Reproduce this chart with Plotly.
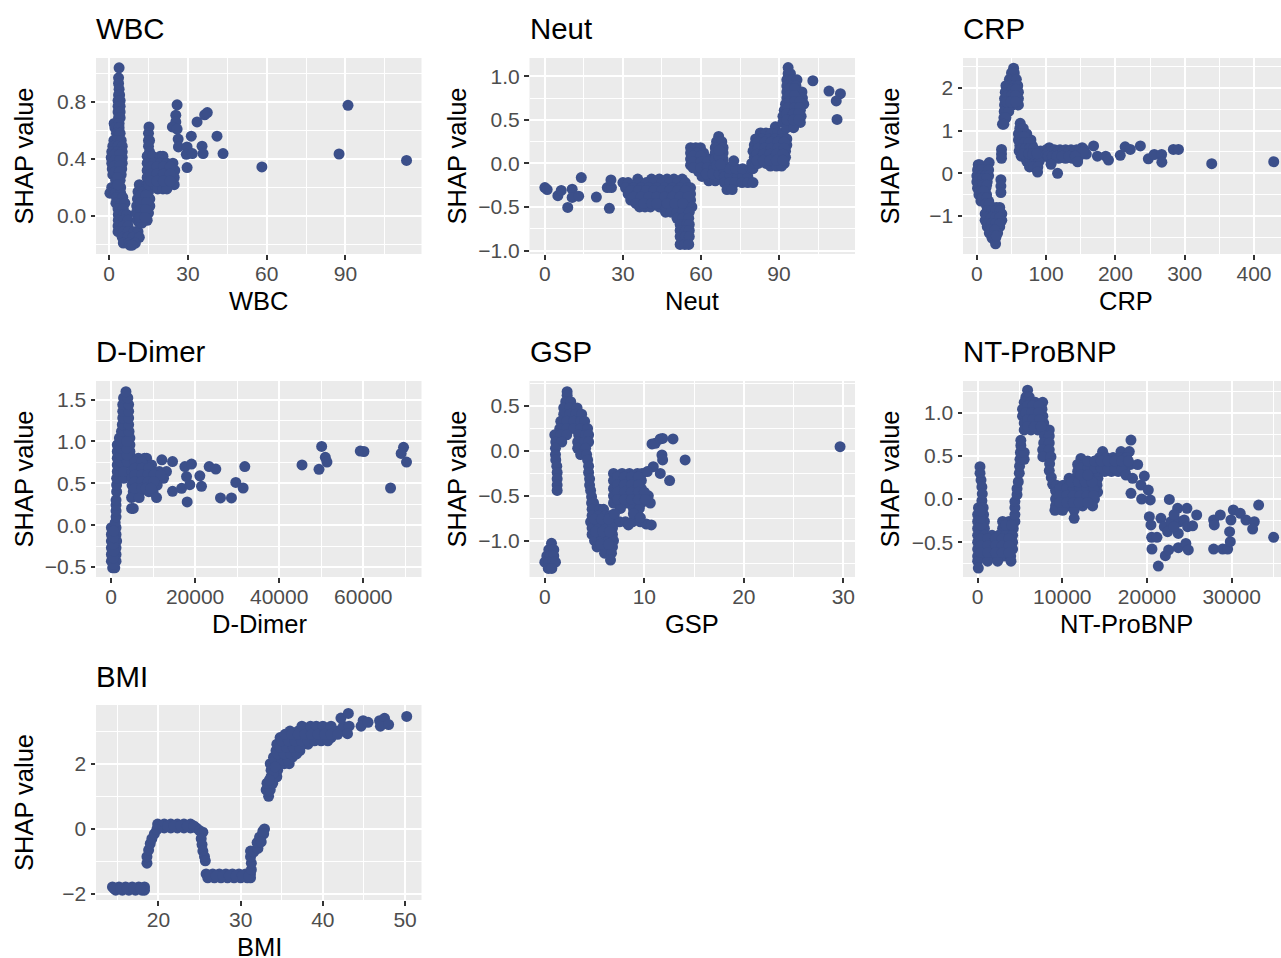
import plotly.graph_objects as go

# Each rows list holds (shap value, [feature values]); points are the sparse marks.
wbc_rows = [
(1.04,[3.8]),(.97,[3.6]),(.93,[3.6]),(.89,[3.8]),(.85,[3.6,4]),(.81,[3.4,4.2]),(.77,[3.4,4.2]),(.73,[3.4,4.2]),(.69,[3.6,4.2]),(.65,[1.9,3.8]),(.62,[2.2,3.8]),
(.58,[2.8,3.8,4.2]),(.53,[1.8,3.4,4.6]),(.49,[1.4,3.2,5]),(.45,[1,3,5]),(.41,[.8,3,5]),(.37,[1,3,5]),(.33,[1.2,3,4.8]),(.29,[1.4,3.2,4.6]),(.25,[2.5,4.2]),(.2,[1,2.8,4.4]),(.16,[.3,2.4,4.4]),(.13,[2.8,5.2]),(.09,[2.6,4.6,6]),(.05,[3.4,5.4]),(.01,[3.5,5.5,6.8]),(-.03,[3.5,5.5,7.2]),(-.07,[3.4,5.4,7.2]),(-.11,[3.4,5.4,7.2,9.5,11]),(-.15,[5,7,9,11.5]),(-.19,[5.4,7.5,10]),(-.205,[7.9,8.8]),
(.22,[11.5,14.5]),(.17,[11,13,15]),(.12,[10.8,13,15.5]),(.07,[10.5,13,15.5]),(.02,[10.3,12.5,15]),(-.03,[10.8,13,14.5]),(-.05,[11.5,12.5]),
(.625,[15.2]),(.58,[15]),(.53,[15,15.4]),(.49,[15]),(.45,[15.4]),(.42,[14.5,16.5,19.5,20.5]),(.37,[14.5,17,19.5,22,24.3]),(.32,[14.5,17,19.5,22,25]),(.27,[14.5,17,19.5,22,24.8]),(.22,[15,17.5,20,22.5,24.8]),(.19,[18.5,20.5,22]),
(.345,[15.8,18.2,20.7,23.2]),(.295,[15.8,18.2,20.7,23.2]),(.245,[15.8,18.2,20.7,23.2]),(.145,[12,14]),(.095,[12,14.3]),(.045,[12,14]),(-.01,[11.5,13.7]),
(.43,[2,4]),(.39,[2,4]),(.35,[2,4]),(.31,[2.2,3.9]),(.27,[3.2]),(.22,[3.4])]
wbc_points = [(25.9,.78),(25.4,.707),(25.4,.66),(24.1,.625),(25.9,.61),(26.3,.54),(26.4,.485),(29.7,.485),(31.3,.56),(29.4,.433),(31.7,.438),(29.7,.34),(33.5,.66),(36.4,.71),(37.4,.726),(35.4,.49),(35.8,.438),(41.1,.56),(43.4,.438),(58.2,.344),(87.6,.435),(91,.777),(113.3,.39)]

neut_rows = [
(-.18,[35.7,41,44,47,49.6,52.8]),(-.22,[30,32,36,39,42,45,48,51,54]),(-.28,[31,34,37,40,43,46,49,52,55,56]),(-.35,[32,35,38,41,44,47,50,53,56]),(-.42,[33,36,39,42,45,48,51,54,56]),(-.5,[36.4,38.5,40.6,44,46.5,49,52,55,56.5]),(-.56,[46.4,48.5,50.8,53,55.5]),(-.63,[50.8,53,55.3]),(-.7,[52,54.5,55.5]),(-.77,[52,54,55.5]),(-.84,[52,54,55.5]),(-.93,[52,53.8,55.3]),
(-.31,[33,36,39,42,45,48,51,54]),(-.385,[34,37,40,43,46,49,52,55]),(-.46,[35,38,41,43,47,50,53]),
(.18,[56,58,59.8]),(.12,[56,58.5,61]),(.05,[56,58.5,61,63.5]),(-.02,[56,58.5,61,63.5]),(-.09,[59,61.5,64,66.5]),(-.15,[60.4,63,65.5,68]),(-.2,[63,65.5]),
(.085,[57,60]),(.015,[57,60,62.5]),(-.05,[57,60,62.5,65]),(-.12,[62,64.5,67]),
(.31,[66.8]),(.25,[66,68]),(.18,[65.5,68.5]),(.12,[65.5,68.5]),(.05,[65.5,68.5]),(-.02,[66,69]),(-.09,[69,71]),(-.15,[69,71,74,76,78]),(-.22,[69,71,73,75.8,78,80]),(-.3,[70,72]),(-.06,[71,73.5,76,79,80]),(.03,[72.6]),(.0,[79.5,81]),(.08,[67]),(.15,[67]),(-.01,[67.5]),
(.42,[88.6]),(.35,[82.8,85,87,89.5,91.5]),(.28,[81,83.5,86,88.5,91,93]),(.21,[80.5,83,85.5,88,90.5,93]),(.14,[80,82.5,85,87.5,90,92.5]),(.07,[80.5,83,85.5,88,90.5,92.5]),(.0,[82,85,87.5,90,92]),(-.03,[86.7,89,91]),
(.245,[82,84.5,87,89.5,92]),(.175,[82,84.5,87,89.5,92]),(.105,[81.5,84,86.5,89,91.5]),(.035,[81.5,84,86.5,89,91.5]),
(1.1,[93.5]),(1.03,[93.5,94.4]),(.96,[93,95,96.9]),(.89,[93,95,96.5]),(.82,[93,95,97,98.8]),(.75,[93,95,97,99]),(.68,[92.5,95,97,99.5]),(.61,[92,94.5,97,98.2]),(.54,[91.5,94,96.5,98.5]),(.47,[91.5,94,96.5,98.2]),(.41,[93,95.6]),
(.86,[94,96]),(.78,[94,96]),(.71,[94,96,98]),(.64,[93.5,96,98]),(.57,[93,95.5,97.5]),(.5,[93,95.5,97.5])]
neut_points = [(0,-.277),(.9,-.30),(5,-.37),(6.3,-.31),(8.8,-.505),(10.5,-.296),(10.5,-.39),(13,-.376),(14,-.163),(19.8,-.387),(24,-.277),(25.6,-.277),(25.4,-.19),(24.8,-.516),(103,.949),(109.2,.831),(113.6,.80),(112,.717),(112.3,.505)]

crp_rows = [
(2.46,[53]),(2.35,[50,54]),(2.2,[47,52,57]),(2.05,[42,48,54,59]),(1.9,[41,47,53,60]),(1.75,[40,46,52,60]),(1.6,[40,46,52,60]),(1.45,[39.5,46]),(1.3,[39,42]),(1.15,[37,39]),
(1.97,[45,51,56]),(1.82,[44,50,56]),(1.67,[43,49,56]),
(.56,[35.6]),(.45,[35.6]),(.35,[35.6]),(-.15,[34.7]),(-.3,[34.7]),(-.45,[34.7]),
(.2,[2,4]),(.25,[17.8]),(.08,[1,6,17]),(-.06,[0,6,12,17]),(-.2,[0,6,12,15]),(-.35,[1,7,13]),(-.5,[3,9,14]),(-.65,[5.8,11,17]),(-.8,[15,20,28,33]),(-.95,[12,18,24,30,36]),(-1.1,[12,18,24,30,36]),(-1.25,[15,21,27,33]),(-1.4,[18,24,30]),(-1.52,[22,27]),(-1.65,[27]),
(-.13,[3,9,14]),(-.28,[3,9,14]),(-.42,[4,10]),(-.58,[8,14]),(-.72,[13,18]),(-.88,[15,21,27,33]),(-1.03,[15,21,27,33]),(-1.18,[15,21,27,33]),(-1.33,[20,26]),(-1.46,[24,28]),
(1.17,[62.6]),(1.05,[62,67]),(.92,[60,66,72]),(.78,[60,66,72,78]),(.65,[62,68,74,80]),(.52,[61,67,73,79,85,92]),(.4,[64,72,78,84,90,97]),(.28,[72,78,84,90]),(.15,[76,82,88]),(.03,[87.6]),
(.85,[63,69]),(.72,[63,69,75]),(.58,[64,70,76,82]),(.46,[67,75,81,87]),
(.6,[104.5,152]),(.55,[100,106,112,120,128,136,144,150,155]),(.45,[100,106,112,120,128,136,144,150,158]),(.35,[105,112,118,128,138,146]),(.5,[103,109,116,124,132,140,147,153]),(.4,[103,109,115,123,133,142])]
crp_points = [(107,.21),(116.5,0),(145.4,.27),(168.5,.64),(174,.4),(186,.4),(190,.31),(207,.42),(214,.62),(221.5,.56),(236,.64),(247.5,.34),(256,.44),(266.7,.44),(267,.26),(283.6,.56),(291,.56),(339,.225),(428.5,.27)]

ddimer_rows = [
(-.51,[400,900]),(-.43,[100,1200]),(-.35,[100,1200]),(-.27,[100,1200]),(-.19,[100,1350]),(-.11,[100,1200]),(-.03,[100,1200]),(.03,[1000]),(.1,[1200]),(.17,[1200]),(.24,[1200]),(.3,[1200]),(.4,[1350]),(.48,[1350]),(.56,[1350,3000]),(.64,[1500]),(.72,[1500,3000]),(.8,[1500,3300,5000,6500,8000,8470]),(.88,[1500,3000,4500]),(.96,[1500,3000,4500]),(1.04,[2000,3500,4500]),(1.12,[2500,4300]),(1.2,[3300,2700,4200]),(1.28,[2800,4200]),(1.36,[2800,4200]),(1.44,[2800,4200]),(1.52,[3000,4000]),(1.595,[3560]),
(-.47,[650]),(-.39,[650]),(-.31,[650]),(-.23,[650]),(-.15,[650]),(-.07,[650]),
(.72,[5000,6500,8000,9650]),(.64,[3000,5000,6500,8000,10000,11500,13200]),(.56,[5000,6500,8000,9500,11000,12500]),(.48,[5000,6500,8000,9500,11000]),(.4,[5300,6900,9000,10000]),(.33,[4900,6700,10840]),(.2,[4900,5300]),
(.76,[2300,3900,5700,7300]),(.68,[5700,7300,9000]),(.6,[5700,7300,8800,10200,11800]),(.52,[5700,7300,8800,10200]),(.44,[5700,7300,8300,9500]),(.84,[2300,3800]),(.92,[2300,3700]),(1.0,[2400,3800])]
ddimer_points = [(12100,.78),(14640,.76),(14640,.405),(16800,.44),(18750,.484),(17970,.58),(17570,.70),(19150,.73),(18120,.278),(21130,.59),(21530,.464),(23350,.70),(24930,.67),(26040,.325),(28650,.325),(29680,.51),(31420,.444),(31820,.70),(45430,.72),(49470,.667),(50100,.94),(50970,.81),(51360,.754),(59280,.885),(60150,.88),(69570,.93),(69000,.857),(70280,.754),(66480,.444)]

gsp_rows = [
(-1.03,[.67]),(-1.1,[.4,.9]),(-1.17,[.2,.55,.9]),(-1.24,[0,.4,.8,1.07]),(-1.31,[.35,.7]),
(.66,[2.24]),(.62,[2.24]),(.55,[2.1,2.6]),(.48,[1.9,2.5,3.24]),(.41,[1.9,2.5,3.1,3.7]),(.33,[1.6,2.2,2.9,3.6,4]),(.25,[1.5,2.2,2.9,3.6,4.3]),(.18,[1,1.6,2.2,3.4,4.1,4.4]),(.1,[1.1,1.7,3.3,4,4.4]),(.03,[1.07,3.3,4.1]),(-.04,[1.07,3.6,4.2]),(-.1,[1.1,4.3]),(-.17,[1.2,4.4]),(-.24,[1.24,4.4]),(-.31,[1.24,4.5]),(-.38,[1.24,4.5]),(-.44,[1.24,4.6]),(-.51,[4.7]),(-.58,[4.7,4.9]),
(-.65,[4.75,5.5,5.9]),(-.72,[4.75,5.4,6.1,6.6]),(-.79,[4.6,5.3,6,6.8,7.5,8.1,8.8,9.6]),(-.86,[4.75,5.4,6.1,6.8]),(-.93,[4.75,5.4,6.1,6.8]),(-1,[5,5.7,6.4,6.9]),(-1.07,[5.25,6,6.8]),(-1.14,[6,6.7]),(-1.216,[6.6]),
(-.76,[5,5.7,6.4]),(-.9,[5.1,5.8,6.5]),(-1.04,[5.6,6.4]),
(-.25,[6.9,7.76,8.5,9.3,9.77]),(-.33,[6.9,7.6,8.3,9,9.7]),(-.42,[6.9,7.6,8.3,9,9.7]),(-.5,[6.9,7.6,8.3,9,9.7,10.4]),(-.58,[6.9,7.6,8.3,9,9.7,10.6]),(-.64,[7.6,8.9,9.5]),(-.7,[7,8.9]),
(-.29,[7.3,8,8.7,9.4]),(-.38,[7.3,8,8.7,9.4]),(-.46,[7.3,8,8.7,9.4,10]),(-.54,[7.3,8,8.7,9.4,10.1])]
gsp_points = [(8.4,-.825),(10.2,-.814),(10.7,-.825),(9.6,-.743),(10.9,-.175),(10.3,-.23),(11.6,-.25),(12.54,-.33),(11.77,-.045),(11.84,-.1),(10.77,.078),(11.1,.085),(11.6,.134),(11.84,.14),(12.88,.134),(14.1,-.1),(29.67,.048)]

bnp_rows = [
(.375,[275]),(.3,[280]),(.22,[400]),(.14,[500]),(.06,[550]),(-.02,[500]),(-.1,[100,650]),(-.18,[0,700]),(-.26,[0,800,2950,3700,4400]),(-.34,[0,800,2950,3700,4200]),(-.42,[0,800,1700,2500,3300,4130]),(-.5,[0,800,1700,2500,3300,4130]),(-.58,[0,800,1700,2500,3300,4130]),(-.66,[0,800,1500,2300,3100,3900]),(-.72,[0,1180,2360,3940]),(-.8,[80]),
(-.46,[400,1200,2100,2900,3700]),(-.54,[400,1200,2100,2900,3700]),(-.62,[400,1200,2100,2900,3700]),(-.3,[400,3300,4000]),(-.22,[350]),(-.14,[350]),
(-.18,[4400]),(-.1,[4400]),(-.03,[4400]),(.05,[4650]),(.12,[4650]),(.2,[4800]),(.3,[4920]),(.38,[4950]),(.46,[5000,5500]),(.54,[5050,5500]),(.62,[5100]),(.68,[5100]),
(1.26,[5900]),(1.18,[5700,6100]),(1.12,[5500,6200,6800,7680]),(1.04,[5300,6000,6800,7600]),(.96,[5300,6000,6800,7700]),(.88,[5500,6200,7000,7800]),(.8,[5500,6300,7100,7900,8460]),(.73,[7900,8460]),(.65,[7800,8460]),(.57,[7680,8460]),(.49,[7700,8660]),(.41,[8500]),(.33,[8460]),(.25,[8700]),(.17,[8860]),(.1,[9200]),
(1.08,[5900,6500,7200]),(1.0,[5700,6400,7200]),(.92,[5900,6500,7300]),(.84,[5900,6700,7500]),
(.24,[10800,11500,12300,13000,13800,14200]),(.16,[9300,10100,10900,11700,12500,13300,14100]),(.08,[9300,10100,10900,11700,12500,13300,14170]),(0,[9200,10000,10800,11600,12400,13200,13800]),(-.08,[9200,10000,10800,11400,12400,13580]),(-.13,[9130,10040,11400]),
(.12,[9700,10500,11300,12100,12900,13700]),(.04,[9700,10500,11300,12100,12900,13700]),(-.04,[9700,10500,11300,12000,13000]),(.2,[11100,11900,12700,13500]),
(.47,[12200]),(.4,[11810,12600,13400,14000,14800,15600,16400,17200,18000,18900]),(.32,[11810,12600,13400,14200,15000,15800,16600,17400]),(.55,[14760,16930,17910]),(.48,[14400,15200,16000,16800,17600]),
(.36,[12200,13000,13800,14600,15400,16200,17000]),(.44,[13000,13800,14600,15400,16200,17000,17800]),(.28,[12200,13000])]
bnp_points = [(11400,-.224),(18110,.683),(17520,.278),(18300,.24),(19690,.266),(19290,.162),(20160,.104),(18110,.066),(19370,0),(20390,-.01),(20280,-.205),(20470,-.3),(20550,-.444),(21180,-.444),(20590,-.58),(21340,-.776),(22170,-.656),(22560,-.59),(22640,-.004),(21650,-.224),(22050,-.32),(22830,-.263),(22440,-.378),(23620,-.108),(23820,-.263),(23700,-.398),(23700,-.564),(24720,-.108),(24400,-.243),(24800,-.32),(25390,-.31),(25870,-.185),(24590,-.514),(24880,-.59),(23200,-.18),(23200,-.32),(27870,-.243),(28660,-.185),(27950,-.3),(27870,-.58),(28940,-.58),(29530,-.58),(29840,-.494),(29760,-.378),(29920,-.243),(30200,-.127),(31020,-.166),(31690,-.243),(32680,-.263),(32480,-.347),(33190,-.07),(34960,-.444)]

bmi_rows = [
(-1.78,[14.4,15.2,16,16.8,17.6,18.3]),(-1.88,[14.8,15.6,16.4,17.2,18,18.3]),(-1.83,[14.6,15.4,16.2,17,17.8]),
(.15,[19.9,20.7,21.5,22.3,23.1,23.9]),(.03,[19.9,20.7,21.5,22.3,23.1,23.9,24.6]),(.09,[20.3,21.1,21.9,22.7,23.5,24.3]),
(-1.38,[25.8,26.6,27.4,28.2,29,29.8,30.6,31.2]),(-1.5,[26,26.8,27.6,28.4,29.2,30,30.8,31.2]),(-1.44,[26.2,27,27.8,28.6,29.4,30.2,31]),
(1.0,[33.4]),(1.2,[33.1,33.6]),(1.4,[33.2,33.9]),(1.6,[33.7,34.4]),(1.8,[33.7,34.5]),(2,[33.6,34.4,35.3,35.9]),(2.2,[34,34.8,35.6,36.3]),(2.4,[34.3,35.1,35.9,36.7,37.2]),(2.6,[34.4,35.2,36,36.8,37.6,38.2]),(2.8,[34.8,35.6,36.4,37.2,38,38.8,39.6,40.4,41]),(3,[36,37,37.8,38.6,39.4,40.2,41,41.8,42.6]),(3.15,[37.45,38.5,39.2,40,41,42.5,43.2]),
(2.1,[34.2,35,35.8]),(2.3,[34.5,35.3,36.1,36.8]),(2.5,[34.8,35.6,36.4,37.2]),(2.7,[35,35.8,36.6,37.4,38.2,39,39.8,40.6]),(2.9,[35.4,36.2,37,37.8,38.6,39.4,40.2,41,41.8]),(1.7,[34]),(1.9,[34.2]),(1.5,[33.5])]
bmi_points = [(18.6,-1.05),(18.6,-.85),(18.8,-.65),(19,-.45),(19.2,-.3),(19.5,-.15),(19.8,-.02),(25,-.05),(25.4,-.1),(25.2,-.3),(25.3,-.48),(25.4,-.68),(25.6,-.85),(25.7,-.98),(31.3,-1.25),(31.3,-1.05),(31.2,-.85),(31.2,-.68),(31.6,-.7),(32.1,-.6),(32,-.42),(32.3,-.25),(32.7,-.07),(32.9,.0),(32.8,-.15),(32.5,-.4),(42.2,3.4),(43.1,3.54),(43,2.92),(44.9,3.32),(44.65,3.15),(45.5,3.27),(46.9,3.32),(47.5,3.39),(47,3.15),(48,3.2),(50.2,3.45)]

panels = [
 dict(name="WBC", rows=wbc_rows, pts=wbc_points, xr=[-5,119], yr=[-.267,1.109], xt=[0,30,60,90], xm=15, yt=[0,.4,.8], ym=.2, yf=".1f", col=0,row=0),
 dict(name="Neut", rows=neut_rows, pts=neut_points, xr=[-5.9,119.2], yr=[-1.04,1.21], xt=[0,30,60,90], xm=15, yt=[-1,-.5,0,.5,1], ym=.25, yf=".1f", col=1,row=0),
 dict(name="CRP", rows=crp_rows, pts=crp_points, xr=[-20,439], yr=[-1.89,2.70], xt=[0,100,200,300,400], xm=50, yt=[-1,0,1,2], ym=.5, yf="d", col=2,row=0),
 dict(name="D-Dimer", rows=ddimer_rows, pts=ddimer_points, xr=[-3560,73840], yr=[-.619,1.722], xt=[0,20000,40000,60000], xm=10000, yt=[-.5,0,.5,1,1.5], ym=.25, yf=".1f", col=0,row=1),
 dict(name="GSP", rows=gsp_rows, pts=gsp_points, xr=[-1.54,31.17], yr=[-1.405,.78], xt=[0,10,20,30], xm=5, yt=[-1,-.5,0,.5], ym=.25, yf=".1f", col=1,row=1),
 dict(name="NT-ProBNP", rows=bnp_rows, pts=bnp_points, xr=[-1730,35830], yr=[-.903,1.367], xt=[0,10000,20000,30000], xm=5000, yt=[-.5,0,.5,1], ym=.25, yf=".1f", col=2,row=1),
 dict(name="BMI", rows=bmi_rows, pts=bmi_points, xr=[12.4,52], yr=[-2.18,3.8], xt=[20,30,40,50], xm=5, yt=[-2,0,2], ym=1, yf="d", col=0,row=2),
]

W, H = 1281, 958
LEFT = [96, 529.5, 963]
RIGHT = [421.5, 855, 1281]
XTITLE_X = [259, 692, 1126]
TOP = [58, 381, 705]
BOTTOM = [254, 577, 900]
YTITLE_X = [23.5, 456.5, 889.5]
COLOR = "#3B4F8A"

fig = go.Figure()
annotations = []
for i, p in enumerate(panels, start=1):
    c, r = p["col"], p["row"]
    sfx = "" if i == 1 else str(i)
    xs = [v for _, vals in p["rows"] for v in vals] + [q[0] for q in p["pts"]]
    ys = [s for s, vals in p["rows"] for _ in vals] + [q[1] for q in p["pts"]]
    fig.add_trace(go.Scatter(
        x=xs, y=ys, mode="markers", marker=dict(color=COLOR, size=11, line=dict(width=0)),
        xaxis="x"+sfx, yaxis="y"+sfx, showlegend=False, name=p["name"]))
    axis = dict(showline=False, zeroline=False, showgrid=True, gridcolor="white", gridwidth=2.2, automargin=False,
                ticks="outside", ticklen=4.5, tickwidth=2, tickcolor="#333333",
                tickfont=dict(family="Liberation Sans", size=21, color="#4D4D4D"))
    fig.layout["xaxis"+sfx] = dict(axis, domain=[LEFT[c]/W, RIGHT[c]/W], range=p["xr"], tickvals=p["xt"],
        anchor="y"+sfx, tickformat="d", ticklabelstandoff=-4,
        minor=dict(dtick=p["xm"], tick0=0, showgrid=True, gridcolor="white", gridwidth=1.1, ticks=""))
    fig.layout["yaxis"+sfx] = dict(axis, domain=[1-BOTTOM[r]/H, 1-TOP[r]/H], range=p["yr"], tickvals=p["yt"],
        anchor="x"+sfx, tickformat=p["yf"],
        minor=dict(dtick=p["ym"], tick0=0, showgrid=True, gridcolor="white", gridwidth=1.1, ticks=""))
    annotations.append(dict(text=p["name"], xref="paper", yref="paper", x=(LEFT[c]-2)/W, y=1-(TOP[r]-29)/H,
        xanchor="left", yanchor="middle", showarrow=False, font=dict(family="Liberation Sans", size=29.4, color="black")))
    annotations.append(dict(text=p["name"], xref="paper", yref="paper", x=XTITLE_X[c]/W, y=1-(BOTTOM[r]+47)/H,
        xanchor="center", yanchor="middle", showarrow=False, font=dict(family="Liberation Sans", size=25.5, color="black")))
    annotations.append(dict(text="SHAP value", xref="paper", yref="paper", x=YTITLE_X[c]/W, y=1-(TOP[r]+BOTTOM[r])/2/H,
        xanchor="center", yanchor="middle", textangle=-90, showarrow=False, font=dict(family="Liberation Sans", size=25.5, color="black")))

fig.update_layout(width=W, height=H, margin=dict(l=0, r=0, t=0, b=0), plot_bgcolor="#EBEBEB",
                  paper_bgcolor="white", annotations=annotations, showlegend=False)
fig.write_html("out.html", config=dict(displayModeBar=False), post_script="document.body.style.margin='0';")
